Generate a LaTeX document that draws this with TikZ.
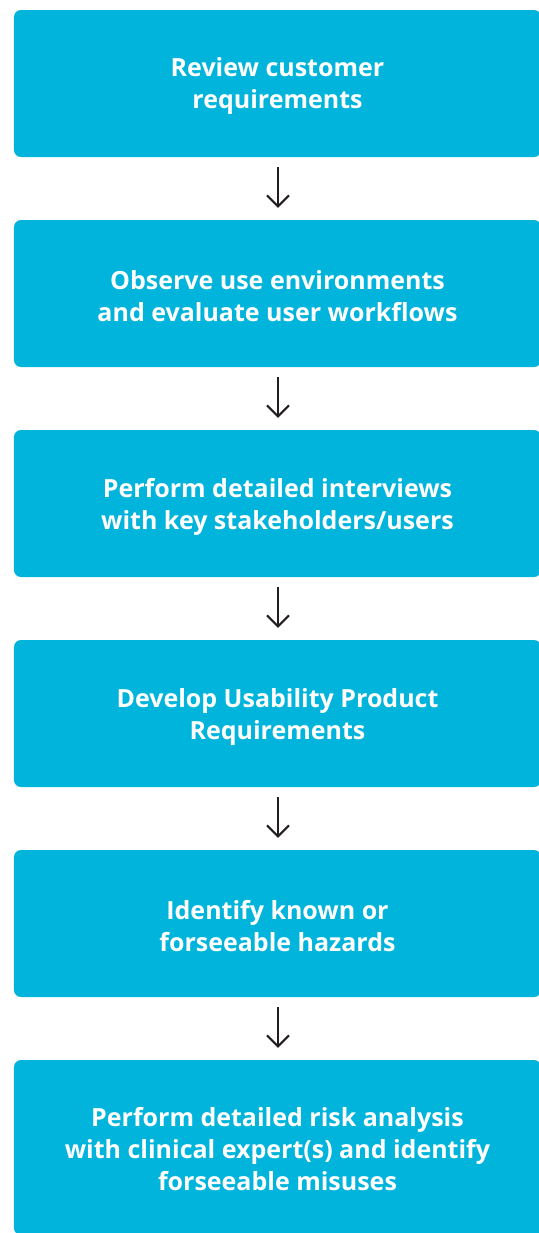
\documentclass[tikz,border=0pt]{standalone}
\usepackage{fontspec}
\setmainfont{Open Sans}
\usetikzlibrary{arrows.meta}
\definecolor{boxblue}{RGB}{0,180,219}
\definecolor{arrowgray}{RGB}{35,31,32}
\tikzset{
  stepbox/.style={fill=boxblue, rounded corners=7bp, minimum width=527bp, minimum height=147bp,
    inner sep=0pt},
  steptext/.style={align=center, text=white, inner sep=0pt, font=\fontsize{25bp}{32bp}\selectfont\bfseries},
  flowarrow/.style={draw=arrowgray, line width=2bp, -{Straight Barb[length=11bp,width=22bp,line width=2bp]}}
}
\begin{document}
\begin{tikzpicture}[x=1bp,y=-1bp]
\useasboundingbox (0,0) rectangle (539,1233);
\clip (0,0) rectangle (539,1233);
\node[stepbox] (b1) at (277.5,83.5) {};
\node[stepbox] (b2) at (277.5,293.5) {};
\node[stepbox] (b3) at (277.5,503.5) {};
\node[stepbox] (b4) at (277.5,713.5) {};
\node[stepbox] (b5) at (277.5,923.5) {};
\node[stepbox, minimum height=175bp] (b6) at (277.5,1147.5) {};
\node[steptext] (t1) at ([yshift=-3bp]b1.center) {Review customer\\requirements};
\node[steptext] (t2) at ([yshift=-3bp]b2.center) {Observe use environments\\and evaluate user workflows};
\node[steptext] (t3) at ([yshift=-3bp]b3.center) {Perform detailed interviews\\with key stakeholders/users};
\node[steptext] (t4) at ([yshift=-3bp]b4.center) {Develop Usability Product\\Requirements};
\node[steptext] (t5) at ([yshift=-3bp]b5.center) {Identify known or\\forseeable hazards};
\node[steptext] (t6) at ([yshift=-2bp]b6.center) {Perform detailed risk analysis\\with clinical expert(s) and identify\\forseeable misuses};
\foreach \a/\b in {b1/b2,b2/b3,b3/b4,b4/b5,b5/b6}{
  \draw[flowarrow] ([xshift=0.5bp,yshift=-10bp]\a.south) -- ([xshift=0.5bp,yshift=12bp]\b.north);
}
\end{tikzpicture}
\end{document}
